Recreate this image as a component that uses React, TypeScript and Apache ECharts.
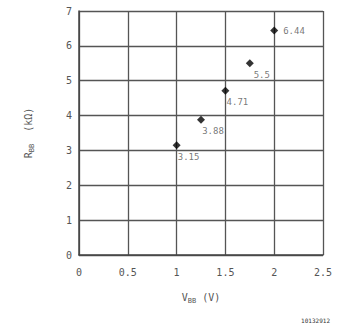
import React, { useEffect, useRef } from "react";
import * as echarts from "echarts";

const vbb = [1, 1.25, 1.5, 1.75, 2];
const rbb = [3.15, 3.88, 4.71, 5.5, 6.44];
const pointLabels = ["3.15", "3.88", "4.71", "5.5", "6.44"];
const labelPos = ["bottom", "bottom", "bottom", "bottom", "right"];

export default function App() {
  const ref = useRef<HTMLDivElement>(null);
  useEffect(() => {
    if (!ref.current) return;
    const chart = echarts.init(ref.current, undefined, { renderer: "svg" });
    const font = "DejaVu Sans Mono";
    const txt = "#555";
    chart.setOption({
      animation: false,
      backgroundColor: "#fff",
      grid: { left: 79, top: 11, width: 244, height: 244 },
      xAxis: {
        type: "value",
        min: 0,
        max: 2.5,
        interval: 0.5,
        axisLine: { show: true, lineStyle: { color: "#444", width: 1.5 } },
        axisTick: { show: false },
        splitLine: { show: true, lineStyle: { color: "#555", width: 1.3 } },
        axisLabel: { color: txt, fontSize: 10, fontFamily: font, margin: 12, formatter: (v: number) => String(v) },
        name: "{a|V}{s|BB}{a| (V)}",
        nameLocation: "middle",
        nameGap: 36,
        nameTextStyle: {
          rich: {
            a: { color: txt, fontSize: 10, fontFamily: font },
            s: { color: txt, fontSize: 7, fontFamily: font, verticalAlign: "bottom", padding: [6, 0, 0, 0] },
          },
        },
      },
      yAxis: {
        type: "value",
        min: 0,
        max: 7,
        interval: 1,
        axisLine: { show: true, lineStyle: { color: "#444", width: 1.5 } },
        axisTick: { show: false },
        splitLine: { show: true, lineStyle: { color: "#555", width: 1.3 } },
        axisLabel: { color: txt, fontSize: 10, fontFamily: font, margin: 7 },
        name: "{a|R}{s|BB}{a|  (kΩ)}",
        nameLocation: "middle",
        nameGap: 44,
        nameTextStyle: {
          rich: {
            a: { color: txt, fontSize: 10, fontFamily: font },
            s: { color: txt, fontSize: 7, fontFamily: font, verticalAlign: "bottom", padding: [6, 0, 0, 0] },
          },
        },
      },
      series: [
        {
          type: "scatter",
          symbol: "diamond",
          symbolSize: 8,
          itemStyle: { color: "#000" },
          data: vbb.map((x, i) => ({
            value: [x, rbb[i]],
            label: {
              show: true,
              formatter: pointLabels[i],
              position: labelPos[i],
              offset: labelPos[i] === "bottom" ? [12, -2] : [0, 0],
              color: txt,
              fontSize: 9,
              fontFamily: font,
            },
          })),
        },
      ],
      graphic: [
        {
          type: "text",
          right: 12,
          bottom: 7,
          style: { text: "10132912", fill: "#333", fontSize: 6, fontFamily: font },
        },
      ],
    });
    return () => chart.dispose();
  }, []);
  return <div ref={ref} style={{ width: 342, height: 330, position: "absolute", left: 0, top: 0 }} />;
}
